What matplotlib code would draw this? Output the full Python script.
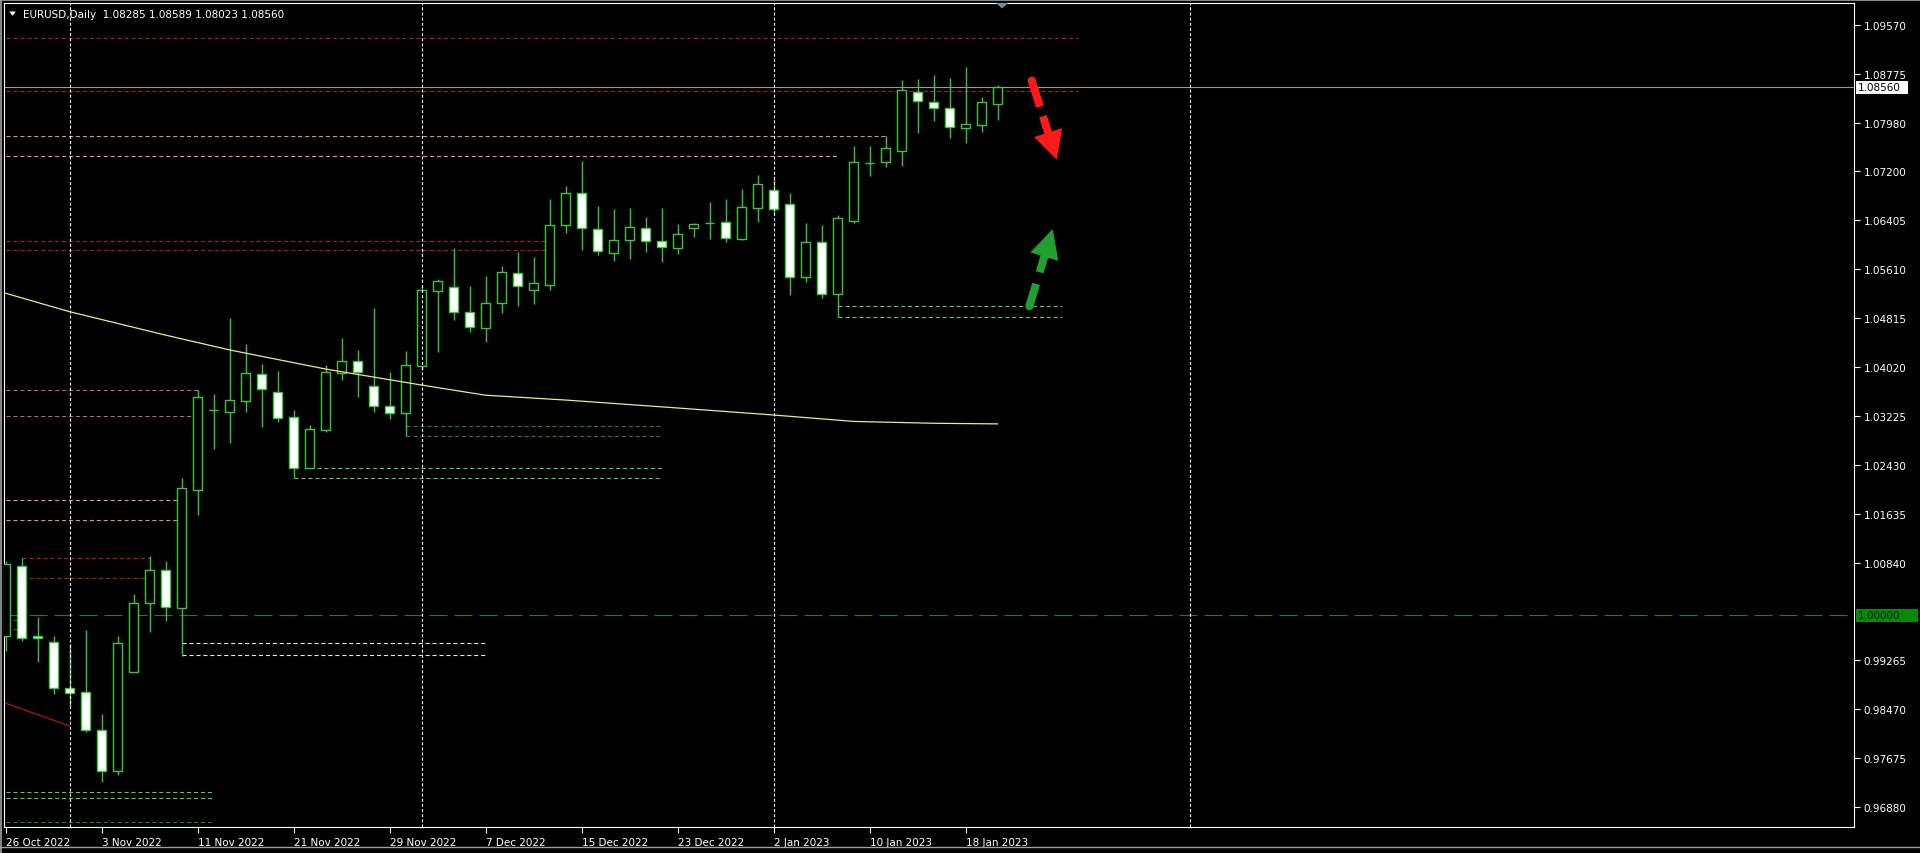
import matplotlib
matplotlib.use("Agg")
import matplotlib.pyplot as plt
from matplotlib.patches import Rectangle, Polygon, Circle
from matplotlib.lines import Line2D
from matplotlib.transforms import IdentityTransform
import numpy as np
import pandas as pd

plt.rcParams['font.family'] = ['DejaVu Sans']
plt.rcParams['lines.scale_dashes'] = False

# ---------------- data ----------------
symbol = "EURUSD"
timeframe = "Daily"
dates = pd.bdate_range("2022-10-26", "2023-01-20")

opens = [0.99655, 1.00800, 0.99655, 0.99557, 0.98811, 0.98746, 0.98140, 0.97465, 0.99080, 1.00190,
         1.00725, 1.00109, 1.02032, 1.03320, 1.03288, 1.03476, 1.03904, 1.03612, 1.03207, 1.02380,
         1.03006, 1.03925, 1.04115, 1.03710, 1.03395, 1.03272, 1.04044, 1.05250, 1.05316, 1.04910,
         1.04650, 1.05056, 1.05553, 1.05277, 1.05358, 1.06321, 1.06840, 1.06256, 1.05867, 1.06078,
         1.06282, 1.06062, 1.05958, 1.06272, 1.06363, 1.06370, 1.06104, 1.06607, 1.06889, 1.06662,
         1.05478, 1.06046, 1.05202, 1.06396, 1.07332, 1.07343, 1.07521, 1.08489, 1.08316, 1.08219,
         1.07895, 1.07943, 1.08285]
highs = [1.00881, 1.00925, 0.99963, 0.99655, 0.99525, 0.99757, 0.98394, 0.99655, 1.00340, 1.00952,
         1.00871, 1.02222, 1.03650, 1.03585, 1.04817, 1.04396, 1.04071, 1.03963, 1.03325, 1.03082,
         1.04055, 1.04493, 1.04298, 1.04980, 1.03937, 1.04277, 1.05341, 1.05450, 1.05953, 1.05341,
         1.05499, 1.05666, 1.05888, 1.05802, 1.06748, 1.06959, 1.07359, 1.06634, 1.06586, 1.06602,
         1.06451, 1.06602, 1.06337, 1.06358, 1.06699, 1.06748, 1.06910, 1.07137, 1.07072, 1.06845,
         1.06358, 1.06326, 1.06488, 1.07602, 1.07602, 1.07765, 1.08673, 1.08694, 1.08759, 1.08705,
         1.08884, 1.08397, 1.08589]
lows = [0.99421, 0.99578, 0.99242, 0.98714, 0.98503, 0.98107, 0.97286, 0.97410, 0.99070, 0.99719,
        0.99908, 0.99340, 1.01627, 1.02693, 1.02790, 1.03298, 1.03045, 1.03126, 1.02217, 1.02380,
        1.02964, 1.03817, 1.03541, 1.03298, 1.03179, 1.02899, 1.03980, 1.04271, 1.04790, 1.04586,
        1.04423, 1.04894, 1.05017, 1.05050, 1.05277, 1.06192, 1.05925, 1.05844, 1.05747, 1.05774,
        1.05893, 1.05731, 1.05860, 1.06136, 1.06099, 1.06055, 1.06088, 1.06380, 1.06504, 1.05195,
        1.05406, 1.05147, 1.04829, 1.06358, 1.07116, 1.07262, 1.07288, 1.07813, 1.08018, 1.07742,
        1.07661, 1.07830, 1.08023]
closes = [1.00827, 0.99627, 0.99622, 0.98811, 0.98730, 0.98140, 0.97465, 0.99541, 1.00190, 1.00725,
          1.00125, 1.02060, 1.03531, 1.03320, 1.03483, 1.03925, 1.03661, 1.03190, 1.02380, 1.03017,
          1.03937, 1.04115, 1.03937, 1.03395, 1.03272, 1.04055, 1.05267, 1.05413, 1.04920, 1.04667,
          1.05056, 1.05559, 1.05332, 1.05380, 1.06321, 1.06840, 1.06272, 1.05899, 1.06078, 1.06289,
          1.06062, 1.05964, 1.06175, 1.06337, 1.06363, 1.06120, 1.06613, 1.06986, 1.06590, 1.05478,
          1.06046, 1.05202, 1.06435, 1.07343, 1.07332, 1.07570, 1.08511, 1.08332, 1.08219, 1.07911,
          1.07959, 1.08316, 1.08560]

# moving average (yellow) read at selected bars
ma_bars = [0, 4, 10, 14, 20, 26, 30, 35, 42, 48, 53, 58, 62]
ma_vals = [1.0522, 1.0492, 1.0454, 1.0430, 1.0399, 1.0373, 1.03565, 1.03487, 1.03358, 1.03244, 1.0314, 1.0311, 1.0310]
# second moving average (red), visible part only
ma2_bars = [0, 4]
ma2_vals = [0.9857, 0.9820]

date_tick_idx = [0, 6, 12, 18, 24, 30, 36, 42, 48, 54, 60]
date_tick_labels = ['26 Oct 2022', '3 Nov 2022', '11 Nov 2022', '21 Nov 2022', '29 Nov 2022',
                    '7 Dec 2022', '15 Dec 2022', '23 Dec 2022', '2 Jan 2023', '10 Jan 2023', '18 Jan 2023']
price_ticks = [0.96880, 0.97675, 0.98470, 0.99265, 1.00840, 1.01635, 1.02430, 1.03225,
               1.04020, 1.04815, 1.05610, 1.06405, 1.07200, 1.07980, 1.08775, 1.09570]
separator_bars = [4, 26, 48, 74]

# horizontal level objects: price, start bar, end bar, kind
level_prices = [1.09360, 1.08495, 1.07765, 1.07440, 1.06062, 1.05920, 1.03645, 1.03223, 1.01860, 1.01536,
                1.00929, 1.00595, 0.99924, 0.99768, 0.99551, 0.99351, 0.97124, 0.97032, 0.96637,
                1.02380, 1.02217, 1.03061, 1.02899, 1.05007, 1.04829]
level_start = [-1, -1, -1, -1, -1, -1, -1, -1, -1, -1,
               1, 1, -1, -1, 11, 11, -1, -1, -1,
               19, 18, 25, 25, 52, 52]
level_end = [67, 67, 55, 52, 34, 34, 12, 12, 11, 11,
             9, 9, 1, 1, 30, 30, 13, 13, 13,
             41, 41, 41, 41, 66, 66]
level_kind = ['red', 'red', 'orange', 'orange', 'red', 'red', 'rose', 'rose', 'orange', 'orange',
              'red', 'red', 'red', 'red', 'white', 'white', 'lgreen', 'lgreen', 'dgreen',
              'lgreen', 'lgreen', 'dgreen', 'dgreen', 'lgreen', 'lgreen']
kind_colors = {'red': '#a82020', 'orange': '#e09a6a', 'rose': '#b86860', 'white': '#e8e8e8',
               'lgreen': '#5ec85e', 'dgreen': '#2e7d32'}

current_price = closes[-1]
parity_level = 1.00000

# ---------------- figure ----------------
W, H = 1920, 854
fig = plt.figure(figsize=(W / 100, H / 100), dpi=100, facecolor='black')
ax_l, ax_r, ax_t, ax_b = 4, 1854, 4, 828
ax = fig.add_axes([ax_l / W, (H - ax_b) / H, (ax_r - ax_l) / W, (ax_b - ax_t) / H])
ax.set_facecolor('black')

px_per_bar = 16.0
x0_px = 5.5
px_per_unit = 6165.0
y_one_px = 616.0
ax.set_xlim((ax_l - x0_px) / px_per_bar, (ax_r - x0_px) / px_per_bar)
ax.set_ylim(1 + (y_one_px - ax_b) / px_per_unit, 1 + (y_one_px - ax_t) / px_per_unit)

for s in ax.spines.values():
    s.set_color('white')
    s.set_linewidth(0.8)

edge = '#3cc83c'
n = len(opens)
xs = np.arange(n)

# levels
for p, a, b, k in zip(level_prices, level_start, level_end, level_kind):
    ax.hlines(p, a, b, colors=kind_colors[k], lw=0.8, linestyles=(0, (3.0, 2.0)), zorder=1)

# parity line and current price line
ax.axhline(parity_level, color='#1f7f1f', lw=0.8, linestyle=(0, (13, 5)), zorder=1)
ax.axhline(current_price, color='#9a9a9a', lw=0.8, zorder=1.5)

# candles
ax.vlines(xs, lows, highs, colors=edge, lw=1.0, zorder=3)
bw = 0.6
for i in range(n):
    o, c = opens[i], closes[i]
    fc = 'black' if c > o else 'white'
    ax.add_patch(Rectangle((i - bw / 2, min(o, c)), bw, abs(c - o), facecolor=fc,
                           edgecolor=edge, lw=1.0, zorder=4))

# moving averages
ax.plot(ma_bars, ma_vals, color='#ecec80', lw=0.9, zorder=5)
ax.plot(ma2_bars, ma2_vals, color='#b01818', lw=0.9, zorder=5)

# period separators
for sb in separator_bars:
    ax.axvline(sb, color='white', lw=0.8, linestyle=(0, (2.2, 1.5)), zorder=6)

# axes ticks
ax.yaxis.tick_right()
ax.set_yticks(price_ticks)
ax.set_yticklabels([f"{v:.5f}" for v in price_ticks])
ax.set_xticks(date_tick_idx)
ax.set_xticklabels(date_tick_labels)
for lab in ax.get_xticklabels():
    lab.set_horizontalalignment('left')
ax.tick_params(axis='y', colors='white', direction='out', length=4, width=0.8, labelsize=7.5, pad=3)
ax.tick_params(axis='x', colors='white', direction='out', length=4, width=0.8, labelsize=7.5, pad=3)

# price label boxes on axis
ytr = ax.get_yaxis_transform()
axw = ax_r - ax_l
box_h = 13 / px_per_unit
ax.add_patch(Rectangle(((1856 - ax_l) / axw, current_price - box_h / 2), 52 / axw, box_h,
                       transform=ytr, facecolor='white', edgecolor='none', clip_on=False, zorder=10))
ax.text((1858 - ax_l) / axw, current_price, f"{current_price:.5f}", transform=ytr, color='black',
        fontsize=7.5, va='center', ha='left', clip_on=False, zorder=11)
ax.add_patch(Rectangle(((1856 - ax_l) / axw, parity_level - box_h / 2), 62 / axw, box_h,
                       transform=ytr, facecolor='#078a07', edgecolor='none', clip_on=False, zorder=10))
ax.text((1858 - ax_l) / axw, parity_level, f"{parity_level:.5f}", transform=ytr, color='#041a04',
        fontsize=7.5, va='center', ha='left', clip_on=False, zorder=11)


def fpx(x, y):
    return (x / W, 1 - y / H)


# header
fig.text(*fpx(23, 14.5), f"{symbol},{timeframe}  {opens[-1]:.5f} {highs[-1]:.5f} {lows[-1]:.5f} {closes[-1]:.5f}",
         color='white', fontsize=7.5, va='center', ha='left')
fig.add_artist(Polygon([fpx(9.3, 12.5), fpx(15.7, 12.5), fpx(12.5, 16.8)], closed=True,
                       transform=fig.transFigure, facecolor='white', edgecolor='none'))
# chart shift marker
fig.add_artist(Polygon([fpx(996, 4), fpx(1008, 4), fpx(1002, 9.5)], closed=True,
                       transform=fig.transFigure, facecolor='#7a8aa0', edgecolor='none'))
# window frame
fig.add_artist(Line2D([0, 1], [1 - 0.8 / H, 1 - 0.8 / H], transform=fig.transFigure, color='#a0a0a0', lw=1.2))
fig.add_artist(Line2D([0.8 / W, 0.8 / W], [0, 1], transform=fig.transFigure, color='#a0a0a0', lw=1.2))
fig.add_artist(Line2D([0, 1], [1 - 847.5 / H, 1 - 847.5 / H], transform=fig.transFigure, color='#a0a0a0', lw=1.0))


# arrows (drawn in pixel space for exact shape)
def draw_arrow(start, tip, color, f1, f2, head_len, head_w, shaft_w):
    p0 = ax.transData.transform(start)
    p1 = ax.transData.transform(tip)
    d = p1 - p0
    L = np.hypot(*d)
    u = d / L
    nrm = np.array([-u[1], u[0]])
    base = p1 - u * head_len
    a1 = p0
    b1 = p0 + u * L * f1
    a2 = p0 + u * L * f2
    lw = shaft_w * 0.72
    for a, b in ((a1, b1), (a2, base + u * 1.0)):
        fig.add_artist(Line2D([a[0], b[0]], [a[1], b[1]], transform=IdentityTransform(), color=color,
                              lw=lw, solid_capstyle='butt', zorder=20))
    fig.add_artist(Circle(p0, shaft_w / 2, transform=IdentityTransform(), facecolor=color,
                          edgecolor='none', zorder=20))
    fig.add_artist(Polygon([base + nrm * head_w / 2, base - nrm * head_w / 2, p1], closed=True,
                           transform=IdentityTransform(), facecolor=color, edgecolor='none', zorder=20))


draw_arrow((64.14, 1.08667), (65.70, 1.07386), '#ff1a1a', 0.33, 0.45, 28.4, 29.5, 8.0)
draw_arrow((63.99, 1.05007), (65.45, 1.06261), '#21a030', 0.29, 0.44, 28.9, 29.3, 8.0)

fig.savefig("out.png", dpi=100, facecolor='black')
